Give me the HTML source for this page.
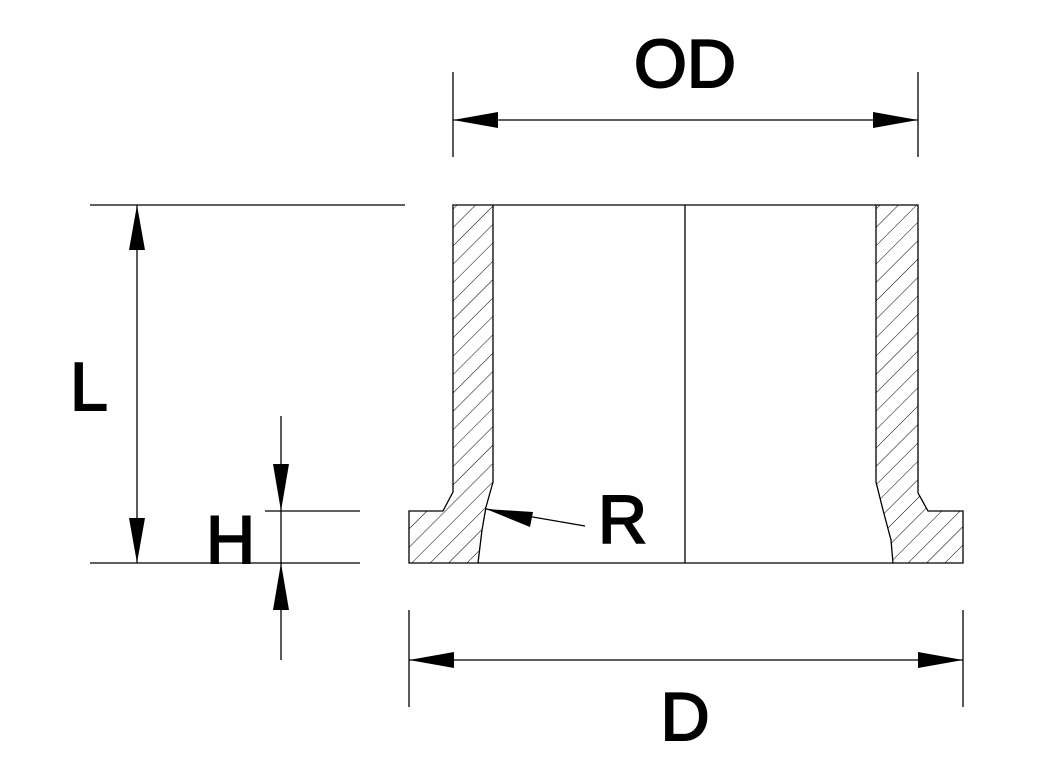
<!DOCTYPE html>
<html><head><style>html,body{margin:0;padding:0;background:#fff;}svg{display:block}</style></head>
<body>
<svg width="1044" height="760" viewBox="0 0 1044 760" xmlns="http://www.w3.org/2000/svg">
<defs>
<pattern id="h" patternUnits="userSpaceOnUse" width="13" height="13" patternTransform="rotate(45)">
<line x1="0" y1="0" x2="0" y2="13" stroke="#000" stroke-width="1"/>
</pattern>
</defs>
<g stroke="#000" stroke-width="1.3" fill="none">
<path d="M453,205 L493,205 L493,482 L486,507 L482,530 L478,563 L409,563 L409,511 L443,511 L453,492 Z" fill="url(#h)"/>
<path d="M876,205 L918,205 L918,493 L928,511 L963,511 L963,563 L893,563 L891,540 L883,510 L876,482 Z" fill="url(#h)"/>
<line x1="493" y1="205" x2="876" y2="205"/>
<line x1="478" y1="563" x2="893" y2="563"/>
<line x1="685" y1="205" x2="685" y2="563"/>
<line x1="453" y1="72" x2="453" y2="157"/>
<line x1="918" y1="72" x2="918" y2="157"/>
<line x1="453" y1="120" x2="918" y2="120"/>
<line x1="90" y1="205" x2="405" y2="205"/>
<line x1="90" y1="563" x2="360" y2="563"/>
<line x1="137" y1="205" x2="137" y2="563"/>
<line x1="265" y1="511" x2="360" y2="511"/>
<line x1="281" y1="416" x2="281" y2="660"/>
<line x1="409" y1="610" x2="409" y2="707"/>
<line x1="963" y1="610" x2="963" y2="707"/>
<line x1="409" y1="660" x2="963" y2="660"/>
<line x1="486" y1="509" x2="585" y2="526"/>
</g>
<g fill="#000">
<polygon points="453,120 498,112 498,128"/>
<polygon points="918,120 873,112 873,128"/>
<polygon points="137,205 129,250 145,250"/>
<polygon points="137,563 129,518 145,518"/>
<polygon points="281,511 273,464 289,464"/>
<polygon points="281,563 273,610 289,610"/>
<polygon points="409,660 454,652 454,668"/>
<polygon points="963,660 918,652 918,668"/>
<polygon points="486,509 533,512 530,527"/>
</g>
<g font-family="Liberation Sans, sans-serif" font-size="68" fill="#000" stroke="#000" stroke-width="2">
<text x="685" y="87" text-anchor="middle">OD</text>
<text x="70" y="410">L</text>
<text x="206" y="563">H</text>
<text x="598" y="543">R</text>
<text x="685" y="740" text-anchor="middle">D</text>
</g>
</svg>
</body></html>
